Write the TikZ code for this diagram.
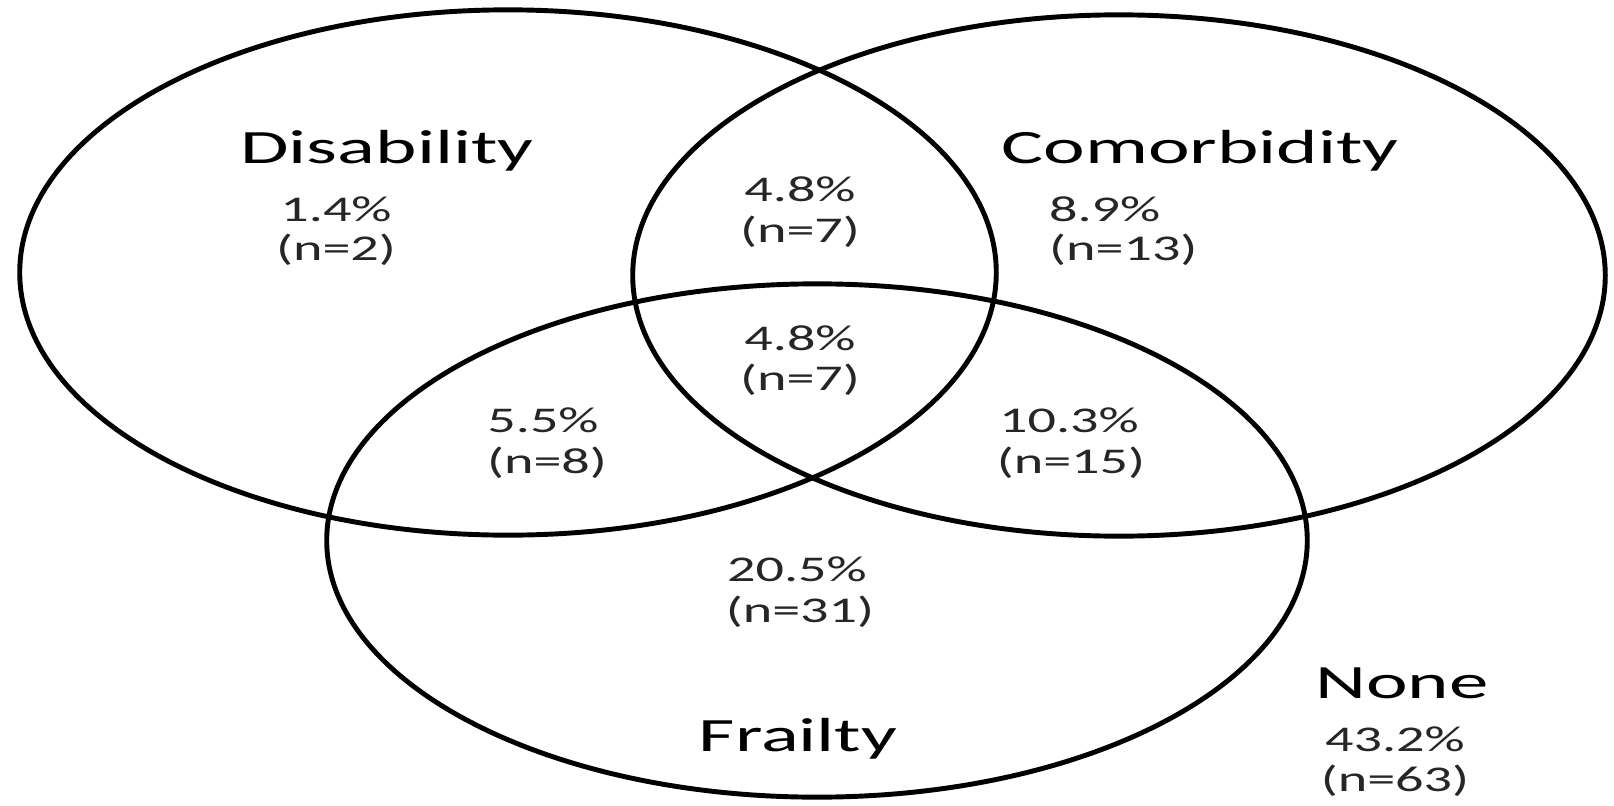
\documentclass[tikz,border=0pt]{standalone}
\usepackage{fontspec}
\setmainfont{Carlito}
\tikzset{
  setline/.style={line width=1.4pt, black},
  setlabel/.style={anchor=base, inner sep=0pt, xscale=1.65, text=black, font=\fontsize{13.6}{16}\selectfont},
  setnum/.style={anchor=base, inner sep=0pt, xscale=1.55, text=black!85, font=\fontsize{10.3}{12}\selectfont},
}
\begin{document}
\begin{tikzpicture}[x=0.01cm, y=-0.01cm]
\useasboundingbox (0,0) rectangle (1614,806);
\fill[white] (0,0) rectangle (1614,806);
% sets
\draw[setline] (508,272.5) ellipse [x radius=4.88cm, y radius=2.625cm];
\draw[setline] (1119,275.5) ellipse [x radius=4.86cm, y radius=2.605cm];
\draw[setline] (817,540.5) ellipse [x radius=4.90cm, y radius=2.565cm];
% labels
\node[setlabel] (ldis) at (387,163) {Disability};
\node[setlabel] (lcom) at (1200,163) {Comorbidity};
\node[setlabel] (lfra) at (798,751) {Frailty};
\node[setlabel] (lnone) at (1402,698) {None};
% values
\node[setnum] (d1) at (336,221) {1.4\%};
\node[setnum] (d2) at (336,260) {(n=2)};
\node[setnum] (dc1) at (800,201) {4.8\%};
\node[setnum] (dc2) at (800,242) {(n=7)};
\node[setnum, anchor=base west] (c1) at (1048,221) {8.9\%};
\node[setnum, anchor=base west] (c2) at (1048,260) {(n=13)};
\node[setnum] (all1) at (800,350) {4.8\%};
\node[setnum] (all2) at (800,390) {(n=7)};
\node[setnum] (df1) at (543,432) {5.5\%};
\node[setnum] (df2) at (547,473) {(n=8)};
\node[setnum] (cf1) at (1069,432) {10.3\%};
\node[setnum] (cf2) at (1071,473) {(n=15)};
\node[setnum] (f1) at (797,581) {20.5\%};
\node[setnum] (f2) at (800,622) {(n=31)};
\node[setnum] (n1) at (1395,751) {43.2\%};
\node[setnum] (n2) at (1395,791) {(n=63)};
\end{tikzpicture}
\end{document}
